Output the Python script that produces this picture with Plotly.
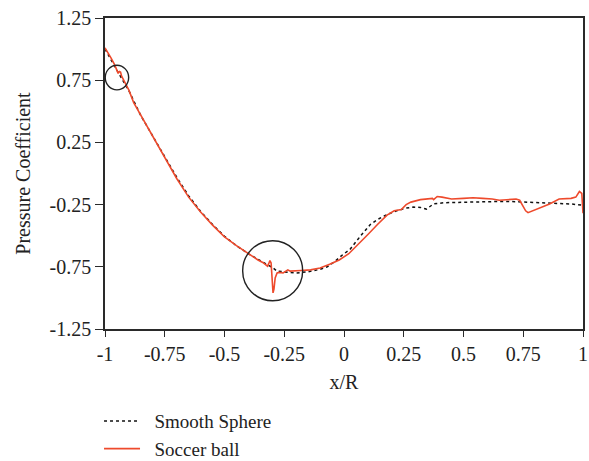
import plotly.graph_objects as go

# Pressure coefficient along the surface, soccer ball vs. smooth sphere
sphere_x = [-1.0, -0.975, -0.95, -0.92, -0.90, -0.85, -0.80, -0.75, -0.70, -0.65,
            -0.60, -0.55, -0.50, -0.45, -0.40, -0.35, -0.30, -0.28, -0.25, -0.20,
            -0.15, -0.10, -0.07, -0.04, -0.01, 0.025, 0.07, 0.11, 0.14, 0.18,
            0.22, 0.26, 0.29, 0.32, 0.345, 0.375, 0.42, 0.50, 0.58, 0.64,
            0.70, 0.75, 0.80, 0.85, 0.90, 0.95, 1.0]
sphere_cp = [1.0, 0.92, 0.83, 0.73, 0.665, 0.465, 0.30, 0.135, -0.03, -0.18,
             -0.305, -0.41, -0.505, -0.58, -0.645, -0.70, -0.755, -0.785, -0.79, -0.80,
             -0.79, -0.77, -0.75, -0.71, -0.66, -0.61, -0.50, -0.41, -0.37, -0.33,
             -0.30, -0.278, -0.27, -0.273, -0.286, -0.244, -0.235, -0.23, -0.228, -0.225,
             -0.225, -0.228, -0.235, -0.238, -0.24, -0.245, -0.255]

ball_x = [-1.0, -0.99, -0.975, -0.96, -0.95, -0.945, -0.94, -0.935, -0.93, -0.92,
          -0.90, -0.88, -0.85, -0.80, -0.75, -0.70, -0.65, -0.60, -0.55, -0.50,
          -0.45, -0.40, -0.36, -0.34, -0.33, -0.32, -0.315, -0.31, -0.305, -0.30,
          -0.297, -0.293, -0.288, -0.28, -0.27, -0.255, -0.245, -0.235, -0.225, -0.21,
          -0.18, -0.14, -0.10, -0.06, -0.02, 0.02, 0.06, 0.10, 0.14, 0.18,
          0.21, 0.24, 0.26, 0.28, 0.32, 0.35, 0.37, 0.375, 0.39, 0.41,
          0.45, 0.50, 0.54, 0.58, 0.62, 0.65, 0.68, 0.72, 0.735, 0.76,
          0.77, 0.80, 0.83, 0.86, 0.90, 0.95, 0.97, 0.985, 0.995, 1.0]
ball_cp = [1.01, 0.98, 0.93, 0.875, 0.835, 0.805, 0.82, 0.815, 0.78, 0.745,
           0.67, 0.57, 0.47, 0.30, 0.13, -0.04, -0.19, -0.31, -0.415, -0.51,
           -0.58, -0.645, -0.695, -0.715, -0.73, -0.745, -0.725, -0.70, -0.72, -0.85,
           -0.96, -0.93, -0.84, -0.80, -0.795, -0.80, -0.79, -0.775, -0.785, -0.785,
           -0.78, -0.775, -0.76, -0.73, -0.695, -0.645, -0.57, -0.49, -0.41, -0.335,
           -0.30, -0.29, -0.25, -0.23, -0.21, -0.205, -0.20, -0.21, -0.185, -0.19,
           -0.205, -0.20, -0.195, -0.20, -0.205, -0.215, -0.21, -0.205, -0.215, -0.30,
           -0.315, -0.29, -0.27, -0.245, -0.205, -0.20, -0.19, -0.145, -0.16, -0.32]

x_ticks = [-1, -0.75, -0.5, -0.25, 0, 0.25, 0.5, 0.75, 1]
x_tick_text = ["-1", "-0.75", "-0.5", "-0.25", "0", "0.25", "0.5", "0.75", "1"]
y_ticks = [-1.25, -0.75, -0.25, 0.25, 0.75, 1.25]
y_tick_text = ["-1.25", "-0.75", "-0.25", "0.25", "0.75", "1.25"]

FONT = "Liberation Serif"
FS = 20
INK = "#222222"
RED = "#EE4A2C"
GAP = "\u00a0\u00a0"  # extra room between legend swatch and label

fig = go.Figure()
fig.add_trace(go.Scatter(x=sphere_x, y=sphere_cp, mode="lines", name=GAP + "Smooth Sphere",
                         line=dict(color="#111111", width=1.5, dash="dot")))
fig.add_trace(go.Scatter(x=ball_x, y=ball_cp, mode="lines", name=GAP + "Soccer ball",
                         line=dict(color=RED, width=1.6)))

# highlight rings around the seam effects
fig.add_shape(type="circle", xref="x", yref="y",
              x0=-0.999, x1=-0.901, y0=0.672, y1=0.870,
              line=dict(color="#222222", width=1.4))
fig.add_shape(type="circle", xref="x", yref="y",
              x0=-0.424, x1=-0.173, y0=-1.023, y1=-0.540,
              line=dict(color="#222222", width=1.4))

axis_common = dict(showgrid=False, zeroline=False, showline=True, mirror=True,
                   linecolor="#2a2a2a", linewidth=1.6, ticks="outside",
                   tickcolor="#2a2a2a", tickwidth=1.4,
                   tickfont=dict(family=FONT, size=FS, color=INK))

fig.update_xaxes(range=[-1, 1], tickvals=x_ticks, ticktext=x_tick_text, ticklen=6,
                 title=dict(text="x/R", font=dict(family=FONT, size=FS, color=INK),
                            standoff=11),
                 **axis_common)
fig.update_yaxes(range=[-1.25, 1.25], tickvals=y_ticks, ticktext=y_tick_text, ticklen=8,
                 title=dict(text="Pressure Coefficient",
                            font=dict(family=FONT, size=FS, color=INK), standoff=14),
                 **axis_common)

fig.update_layout(
    width=589, height=461,
    margin=dict(l=105, r=6, t=18, b=132, autoexpand=False),
    paper_bgcolor="white", plot_bgcolor="white",
    showlegend=True,
    legend=dict(orientation="v", x=-0.0125, xanchor="left", y=-0.235, yanchor="top",
                font=dict(family=FONT, size=19, color=INK),
                itemwidth=36, tracegroupgap=0, bgcolor="rgba(0,0,0,0)"),
)

fig.write_html("out.html")
